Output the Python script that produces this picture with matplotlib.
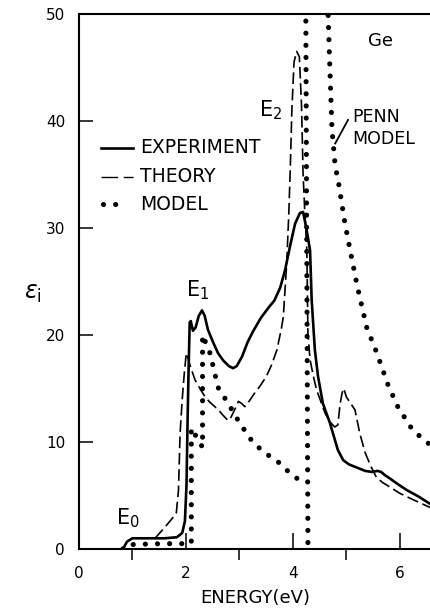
import matplotlib
matplotlib.use('Agg')
import matplotlib.pyplot as plt

# Ge: imaginary part of the dielectric constant vs photon energy
exp_E = [0.82, 0.9, 1.0, 1.3, 1.6, 1.83, 1.93, 1.98, 2.01, 2.03, 2.05, 2.07, 2.09,
         2.13, 2.18, 2.24, 2.3, 2.35, 2.41, 2.5, 2.6, 2.7, 2.8, 2.88, 2.95, 3.05,
         3.15, 3.25, 3.4, 3.55, 3.65, 3.76, 3.85, 3.95, 4.04, 4.13, 4.19, 4.25,
         4.32, 4.35, 4.41, 4.47, 4.56, 4.69, 4.84, 4.94, 5.05, 5.2, 5.35, 5.48,
         5.58, 5.65, 5.72, 5.81, 5.95, 6.13, 6.35, 6.6]
exp_eps = [0.0, 0.7, 1.0, 1.0, 1.0, 1.1, 1.5, 2.6, 6.0, 12.0, 17.0, 21.2, 21.3,
           20.4, 20.7, 21.8, 22.3, 21.8, 20.5, 19.4, 18.3, 17.6, 17.1, 16.9, 17.1,
           18.0, 19.3, 20.3, 21.6, 22.6, 23.2, 24.4, 26.0, 28.4, 30.4, 31.4, 31.5,
           30.0, 27.9, 23.3, 18.6, 16.1, 13.6, 11.8, 9.25, 8.3, 7.9, 7.6, 7.3, 7.2,
           7.3, 7.2, 6.9, 6.6, 6.1, 5.5, 4.9, 4.1]

th_E = [1.42, 1.6, 1.75, 1.82, 1.86, 1.89, 1.93, 1.97, 2.0, 2.02, 2.05, 2.1, 2.17,
        2.26, 2.36, 2.45, 2.54, 2.64, 2.73, 2.79, 2.84, 2.9, 2.98, 3.04, 3.1, 3.18,
        3.26, 3.38, 3.5, 3.6, 3.7, 3.78, 3.82, 3.88, 3.92, 3.95, 3.98, 4.02, 4.07,
        4.12, 4.16, 4.19, 4.22, 4.26, 4.28, 4.32, 4.38, 4.44, 4.52, 4.6, 4.69,
        4.78, 4.84, 4.88, 4.92, 4.95, 5.0, 5.08, 5.16, 5.25, 5.35, 5.45, 5.56,
        5.68, 5.81, 6.0, 6.25, 6.6]
th_eps = [1.0, 2.0, 2.9, 3.4, 5.5, 10.8, 14.0, 16.5, 18.0, 18.3, 17.6, 16.8, 15.8,
          15.0, 14.2, 13.7, 13.3, 12.8, 12.3, 12.0, 12.3, 12.9, 13.8, 13.6, 13.3,
          13.8, 14.4, 15.2, 16.1, 17.2, 18.6, 20.5, 21.7, 26.4, 31.0, 35.5, 41.0,
          45.5, 46.5, 46.0, 41.5, 35.0, 31.7, 27.9, 20.2, 17.7, 16.2, 14.9, 13.8,
          12.7, 11.9, 11.4, 11.6, 13.5, 14.6, 15.0, 14.2, 13.6, 13.0, 10.8, 9.0,
          7.8, 6.7, 6.2, 5.8, 5.2, 4.6, 3.8]

# model: E0 step + E1 edge, then the E2 singularity
model_E = [0.82, 0.9, 1.2, 1.6, 1.9, 2.1, 2.1, 2.31, 2.31, 2.45, 2.6, 2.79, 3.0,
           3.26, 3.5, 3.76, 3.94, 4.13]
model_eps = [0.0, 0.4, 0.45, 0.5, 0.5, 0.5, 11.3, 9.5, 20.0, 18.3, 15.1, 13.6,
             11.8, 9.9, 8.9, 8.0, 7.1, 6.4]
model2_E = [4.28, 4.24]
model2_eps = [0.6, 51.0]

penn_E = [4.65, 4.69, 4.73, 4.79, 4.85, 4.97, 5.07, 5.21, 5.38, 5.57, 5.78, 5.96,
          6.24, 6.5, 6.65]
penn_eps = [51.0, 45.0, 39.2, 35.8, 34.3, 30.5, 27.9, 24.4, 20.7, 18.3, 15.3,
            13.3, 11.1, 10.0, 9.4]

x_ticks = [0, 2, 4, 6]
y_ticks = [0, 10, 20, 30, 40, 50]

fig = plt.figure(figsize=(4.31, 6.16), dpi=100)
ax = fig.add_axes([79 / 431, 67 / 616, 353 / 431, 535 / 616])

dots = dict(color='black', lw=3.7, linestyle=(0, (0.01, 2.35)),
            dash_capstyle='round', solid_capstyle='round')
dash = dict(color='black', lw=1.2, linestyle=(0, (7, 2.8)))
solid = dict(color='black', lw=1.9)

ax.plot(exp_E, exp_eps, **solid)
ax.plot(th_E, th_eps, **dash)
ax.plot(model_E, model_eps, **dots)
ax.plot(model2_E, model2_eps, **dots)
ax.plot(penn_E, penn_eps, **dots)

ax.set_xlim(0, 6.6)
ax.set_ylim(0, 50)
ax.set_xticks(x_ticks)
ax.set_xticks([1, 3, 5], minor=True)
ax.set_yticks(y_ticks)
ax.tick_params(axis='both', direction='in', width=1.1, labelsize=11)
ax.tick_params(axis='y', length=10, pad=10)
ax.tick_params(axis='x', which='major', length=11.5, pad=12)
ax.tick_params(axis='x', which='minor', length=8, width=1.1)
for side in ['left', 'bottom', 'top']:
    ax.spines[side].set_linewidth(1.5)
ax.spines['right'].set_visible(False)

ax.set_xlabel('ENERGY(eV)', fontsize=13, labelpad=6)
ax.text(-0.13, 0.478, r'$\epsilon_{\rm i}$', transform=ax.transAxes,
        fontsize=17, ha='center', va='center')

# legend
ax.plot([0.41, 1.01], [37.5, 37.5], **solid)
ax.plot([0.41, 1.01], [34.8, 34.8], color='black', lw=1.0, linestyle=(0, (12, 4)))
ax.plot([0.45, 0.9], [32.2, 32.2], **dots)
ax.text(1.14, 37.5, 'EXPERIMENT', fontsize=13.5, va='center', ha='left')
ax.text(1.14, 34.8, 'THEORY', fontsize=13.5, va='center', ha='left')
ax.text(1.14, 32.2, 'MODEL', fontsize=13.5, va='center', ha='left')

# annotations
ax.text(5.64, 47.5, 'Ge', fontsize=13, ha='center', va='center')
ax.text(3.36, 41.0, r'$\mathregular{E_2}$', fontsize=15, ha='left', va='center')
ax.text(2.0, 24.2, r'$\mathregular{E_1}$', fontsize=15, ha='left', va='center')
ax.text(0.7, 2.9, r'$\mathregular{E_0}$', fontsize=15, ha='left', va='center')
ax.text(5.1, 40.4, 'PENN', fontsize=12.5, ha='left', va='center')
ax.text(5.1, 38.3, 'MODEL', fontsize=12.5, ha='left', va='center')
ax.plot([5.03, 4.79], [40.1, 37.9], color='black', lw=1.3)

fig.savefig('out.png', dpi=100)
